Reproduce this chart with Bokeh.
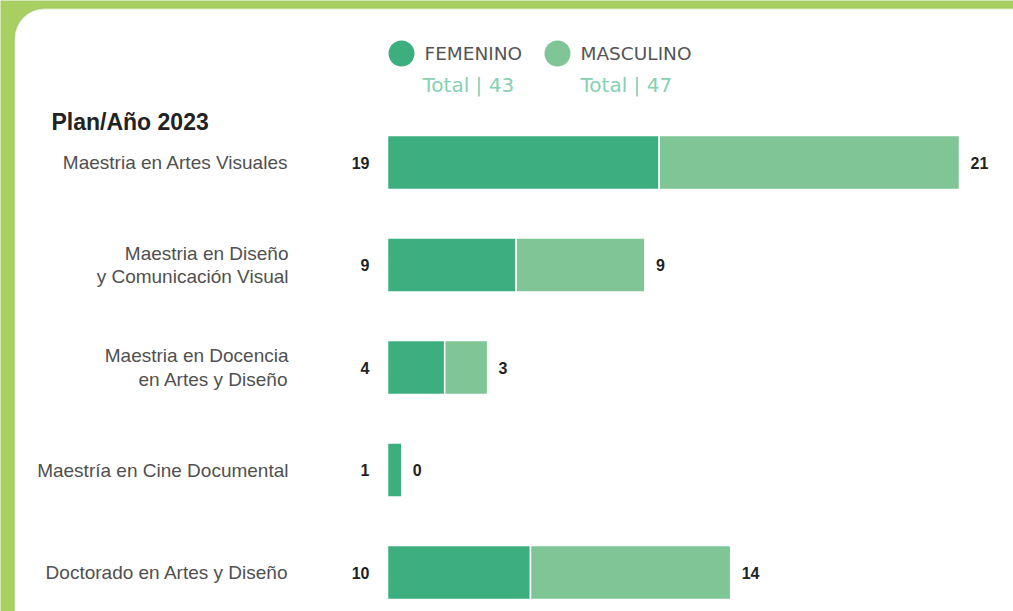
from bokeh.plotting import figure
from bokeh.models import Range1d, BoxAnnotation, ColumnDataSource
from bokeh.core.properties import value
from bokeh.embed import file_html
from bokeh.resources import INLINE

# ---- data ----
programs = [
    "Maestria en Artes Visuales",
    "Maestria en Diseño\ny Comunicación Visual",
    "Maestria en Docencia\nen Artes y Diseño",
    "Maestría en Cine Documental",
    "Doctorado en Artes y Diseño",
]
femenino = [19, 9, 4, 1, 10]
masculino = [21, 9, 3, 0, 14]
series_names = ["FEMENINO", "MASCULINO"]
title_text = "Plan/Año 2023"

FEM_COLOR = "#3daf7f"
MAS_COLOR = "#80c596"
OUTER = "#a8cf62"
BORDER = "#8cbf4f"

W, H = 1013, 611
X0_PX, UNIT_PX = 387, 14.3       # pixel of x=0, pixels per unit
Y0_PX, ROW_PX = 162, 102.5        # pixel of row 0 center, pixels per row


def px_x(px):
    return (px - X0_PX) / UNIT_PX


def px_y(py):
    return (py - Y0_PX) / ROW_PX


p = figure(width=W, height=H, output_backend="svg", toolbar_location=None,
           x_range=Range1d(px_x(0), px_x(W)), y_range=Range1d(px_y(H), px_y(0)),
           x_axis_location=None, y_axis_location=None, min_border=0)
p.grid.visible = False
p.outline_line_color = None
p.background_fill_color = OUTER
p.border_fill_color = OUTER

panel = BoxAnnotation(left=px_x(14), right=px_x(W + 40), top=px_y(8), bottom=px_y(H + 40),
                      fill_color="white", fill_alpha=1, line_color=BORDER, line_width=2,
                      border_radius=30, level="underlay")
p.add_layout(panel)

idx = list(range(len(programs)))
totals = [f + m for f, m in zip(femenino, masculino)]
src = ColumnDataSource(dict(y=idx, fem=femenino, mas=masculino, tot=totals, name=programs,
                            fem_s=[str(v) for v in femenino], mas_s=[str(v) for v in masculino]))

bh = 54 / ROW_PX
p.hbar(y="y", left=0, right="fem", height=bh, source=src, fill_color=FEM_COLOR,
       line_color="white", line_width=1.5)
p.hbar(y="y", left="fem", right="tot", height=bh, source=src, fill_color=MAS_COLOR,
       line_color="white", line_width=1.5)

# category labels
p.text(x=0, y="y", text="name", source=src, x_offset=-99, text_align="right",
       text_baseline="middle", text_font=value("Liberation Sans"), text_font_size="19px",
       text_color="#505050", text_line_height=1.1)
# value labels
p.text(x=0, y="y", text="fem_s", source=src, x_offset=-18, text_align="right",
       text_baseline="middle", text_font=value("Liberation Sans"), text_font_size="16px",
       text_font_style="bold", text_color="#222222")
p.text(x="tot", y="y", text="mas_s", source=src, x_offset=11, text_align="left",
       text_baseline="middle", text_font=value("Liberation Sans"), text_font_size="16px",
       text_font_style="bold", text_color="#222222")

# title
p.text(x=[px_x(51)], y=[px_y(121)], text=[title_text], text_align="left", text_baseline="middle",
       text_font=value("Liberation Sans"), text_font_size="23px", text_font_style="bold",
       text_color="#222222")

# legend
p.scatter(x=[px_x(401), px_x(557)], y=[px_y(53), px_y(53)], size=26, marker="circle",
          fill_color=[FEM_COLOR, MAS_COLOR], line_color=None)
p.text(x=[px_x(424), px_x(580)], y=[px_y(53), px_y(53)], text=series_names,
       text_align="left", text_baseline="middle", text_font=value("DejaVu Sans"),
       text_font_size="18.5px", text_color="#555555")
p.text(x=[px_x(422), px_x(580)], y=[px_y(84), px_y(84)],
       text=[f"Total | {sum(femenino)}", f"Total | {sum(masculino)}"],
       text_align="left", text_baseline="middle", text_font=value("DejaVu Sans"),
       text_font_size="20px", text_color="#86d1b2")

html = file_html(p, INLINE)
html = html.replace("<body>", f'<body style="background-color:{OUTER};">', 1)
open("out.html", "w").write(html)
